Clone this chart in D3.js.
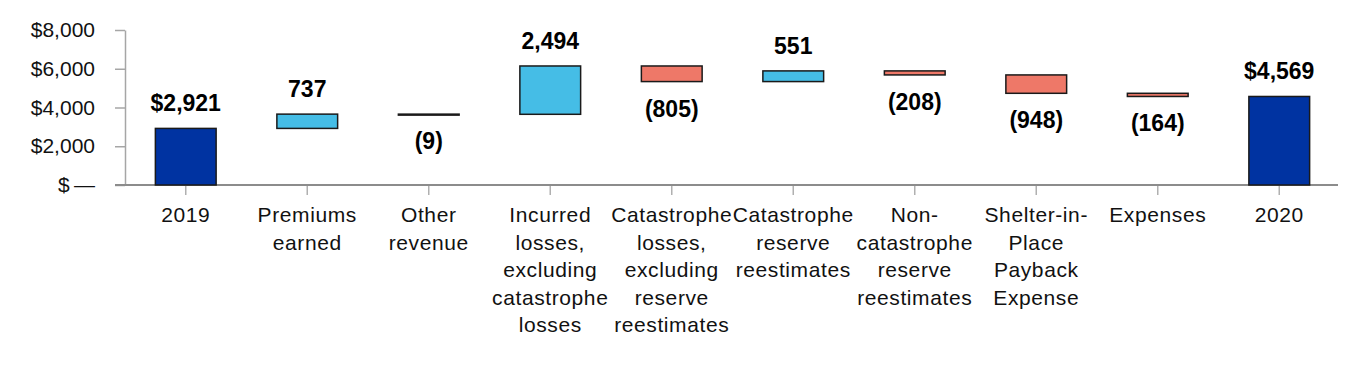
<!DOCTYPE html>
<html>
<head>
<meta charset="utf-8">
<script src="https://cdn.jsdelivr.net/npm/d3@7"></script>
<style>
  body { margin: 0; background: #fff; }
  svg { display: block; font-family: "Liberation Sans", Arial, Helvetica, sans-serif; }
</style>
</head>
<body>
<svg width="1368" height="370"></svg>
<script>
  // categories, split into the lines shown under each tick
  var categories = [
    "2019",
    "Premiums\nearned",
    "Other\nrevenue",
    "Incurred\nlosses,\nexcluding\ncatastrophe\nlosses",
    "Catastrophe\nlosses,\nexcluding\nreserve\nreestimates",
    "Catastrophe\nreserve\nreestimates",
    "Non-\ncatastrophe\nreserve\nreestimates",
    "Shelter-in-\nPlace\nPayback\nExpense",
    "Expenses",
    "2020"
  ];
  var values = [2921, 737, -9, 2494, -805, 551, -208, -948, -164, 4569];
  var isTotal = [true, false, false, false, false, false, false, false, false, true];
  var yTicks = [0, 2000, 4000, 6000, 8000];

  var svg = d3.select('svg');

  var x = d3.scaleBand().domain(categories).range([125, 1340]).paddingInner(0.5).paddingOuter(0.25);
  var y = d3.scaleLinear().domain([0, 8000]).range([185, 30]);

  // running totals for the floating bars
  var run = 0;
  var bars = values.map(function(v, i) {
    var lo, hi;
    if (isTotal[i]) { lo = 0; hi = v; run = v; }
    else { lo = Math.min(run, run + v); hi = Math.max(run, run + v); run = run + v; }
    return { cat: categories[i], v: v, lo: lo, hi: hi, total: isTotal[i] };
  });

  function fill(d) {
    if (d.total) return '#0033a1';
    return d.v >= 0 ? '#45bde6' : '#ee7868';
  }

  // y axis
  var yAxis = d3.axisLeft(y).tickValues(yTicks).tickSize(10).tickSizeOuter(0)
    .tickFormat(function(d) { return d === 0 ? '$\u2009\u2014' : d3.format('$,')(d); });
  var gy = svg.append('g').attr('transform', 'translate(125,0)').call(yAxis);
  gy.select('.domain').attr('stroke', '#a6a6a6').attr('stroke-width', 1.5);
  gy.selectAll('.tick line').attr('stroke', '#a6a6a6').attr('stroke-width', 1.5);
  gy.selectAll('.tick text').attr('x', -30).attr('font-size', 21).attr('fill', '#111');

  // x axis ticks
  var gx = svg.append('g').attr('transform', 'translate(0,185)')
    .call(d3.axisBottom(x).tickSize(10).tickSizeOuter(0).tickFormat(''));
  gx.select('.domain').remove();
  gx.selectAll('.tick line').attr('stroke', '#b0b0b0').attr('stroke-width', 1.5);

  svg.append('line')
    .attr('x1', 115).attr('x2', x.range()[1] - 2)
    .attr('y1', y(0)).attr('y2', y(0))
    .attr('stroke', '#8c8c8c').attr('stroke-width', 2);

  // category labels
  categories.forEach(function(c) {
    var t = svg.append('text')
      .attr('x', x(c) + x.bandwidth() / 2)
      .attr('y', 222)
      .attr('text-anchor', 'middle')
      .attr('font-size', 21)
      .attr('letter-spacing', 0.6)
      .attr('fill', '#111');
    c.split('\n').forEach(function(line, k) {
      t.append('tspan').attr('x', x(c) + x.bandwidth() / 2).attr('y', 222 + k * 27.5).text(line);
    });
  });

  // bars
  svg.selectAll('rect.bar').data(bars).enter().append('rect')
    .attr('class', 'bar')
    .attr('x', function(d) { return x(d.cat); })
    .attr('width', x.bandwidth())
    .attr('y', function(d) { return y(d.hi); })
    .attr('height', function(d) { return Math.max(1, y(d.lo) - y(d.hi)); })
    .attr('fill', fill)
    .attr('stroke', '#1a1a1a')
    .attr('stroke-width', 1.5);

  // value labels
  svg.selectAll('text.val').data(bars).enter().append('text')
    .attr('class', 'val')
    .attr('x', function(d) { return x(d.cat) + x.bandwidth() / 2; })
    .attr('y', function(d) { return d.v >= 0 ? y(d.hi) - 17 : y(d.lo) + 35; })
    .attr('text-anchor', 'middle')
    .attr('font-size', 23)
    .attr('font-weight', 'bold')
    .attr('fill', '#000')
    .text(function(d) {
      if (d.total) return d3.format('$,')(d.v);
      return d.v >= 0 ? d3.format(',')(d.v) : '(' + d3.format(',')(-d.v) + ')';
    });
</script>
</body>
</html>
